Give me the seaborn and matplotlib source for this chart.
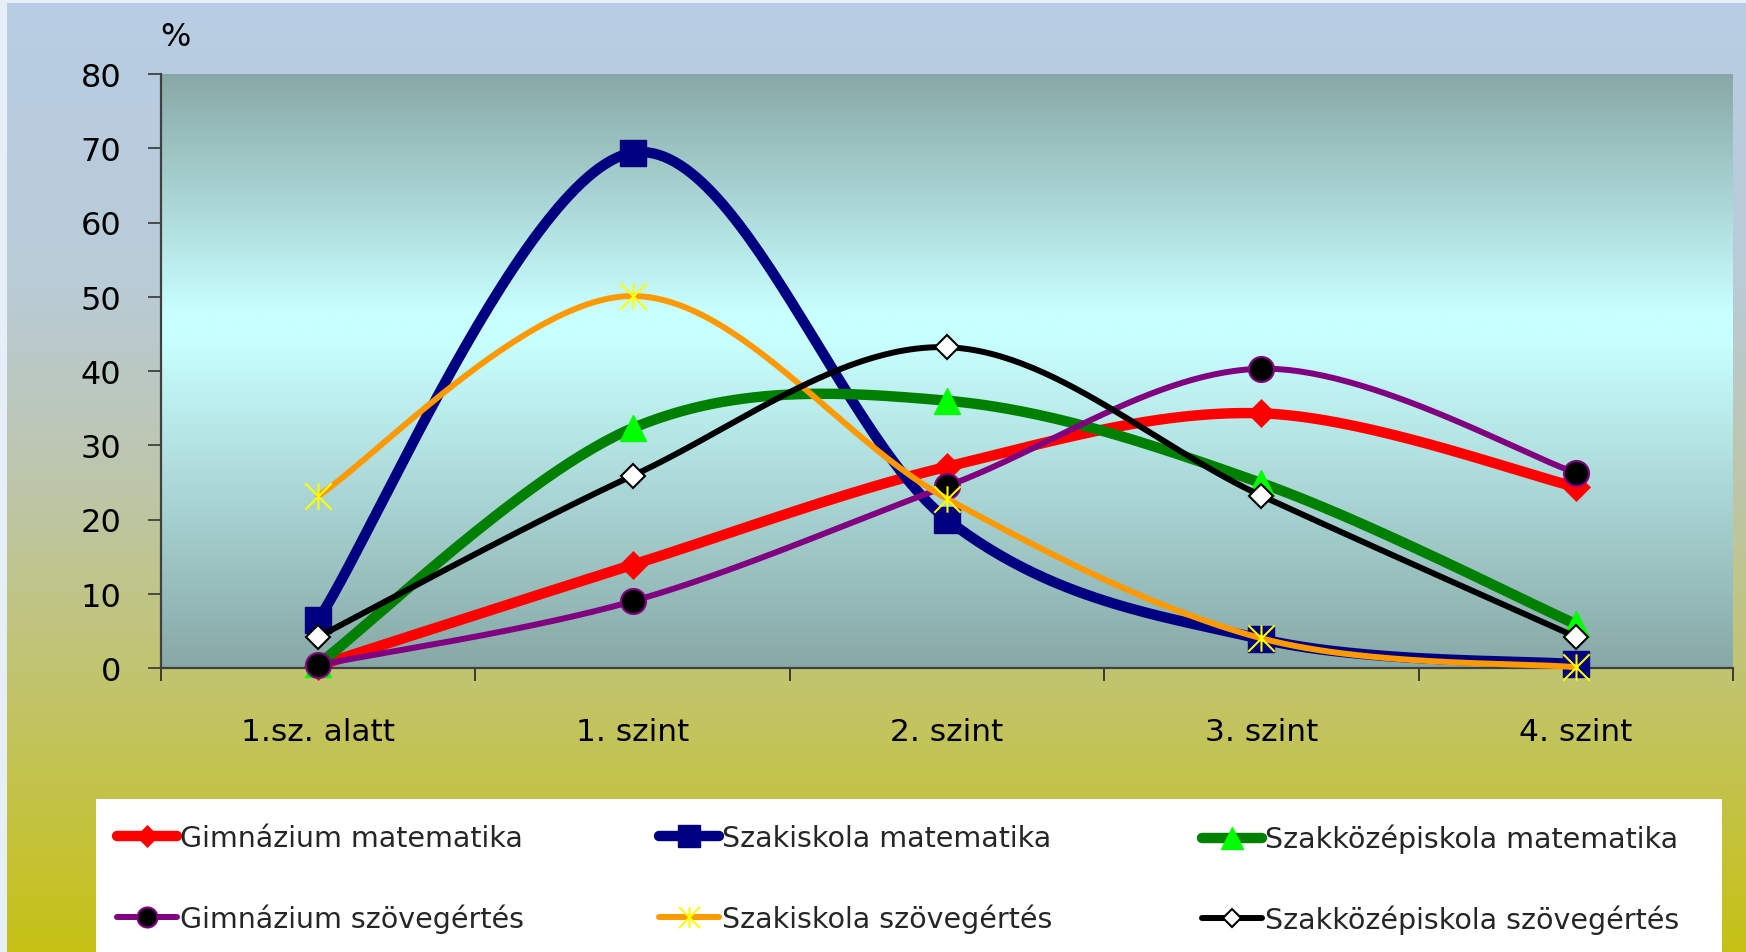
import numpy as np
import matplotlib
matplotlib.use("Agg")
import matplotlib.pyplot as plt
import seaborn as sns
from matplotlib.lines import Line2D
from matplotlib.patches import Rectangle
from matplotlib.path import Path

# ---------------- data ----------------
categories = ["1.sz. alatt", "1. szint", "2. szint", "3. szint", "4. szint"]
gimn_mat = [0.3, 13.9, 27.1, 34.3, 24.4]
szak_mat = [6.5, 69.4, 20.0, 3.9, 0.5]
szakkoz_mat = [0.5, 32.3, 36.0, 24.9, 5.9]
gimn_szov = [0.4, 9.0, 24.5, 40.3, 26.3]
szak_szov = [23.2, 50.1, 22.8, 4.0, 0.1]
szakkoz_szov = [4.2, 25.9, 43.2, 23.2, 4.2]
series_names = ["Gimnázium matematika", "Szakiskola matematika", "Szakközépiskola matematika",
                "Gimnázium szövegértés", "Szakiskola szövegértés", "Szakközépiskola szövegértés"]
y_ticks = [0, 10, 20, 30, 40, 50, 60, 70, 80]

# ---------------- style ----------------
sns.set_theme(style="white")
plt.rcParams["font.family"] = ["DejaVu Sans"]

W, H = 1746, 953
fig = plt.figure(figsize=(W / 100, H / 100), dpi=100)
fig.patch.set_facecolor("#E6EEF7")

# figure background gradient
stops = [(0.0, (184, 205, 228)), (0.3, (185, 203, 214)), (0.5, (189, 198, 172)),
         (0.73, (194, 196, 104)), (1.0, (198, 193, 20))]
fr = np.linspace(0, 1, 400)
cols = np.stack([np.interp(fr, [s[0] for s in stops], [s[1][k] for s in stops]) for k in range(3)], axis=1) / 255
bg = fig.add_axes([7 / W, 0, 1 - 7 / W, 1 - 4 / H], zorder=-10)
bg.imshow(cols[:, None, :], aspect="auto", extent=[0, 1, 0, 1])
bg.axis("off")

# white legend box
fig.add_artist(Rectangle((96 / W, 0), (1722 - 96) / W, (953 - 800) / H, transform=fig.transFigure,
                         facecolor="white", edgecolor="none", zorder=-5))

ax = fig.add_axes([161 / W, 1 - 669 / H, (1733 - 161) / W, (669 - 75) / H], zorder=0)
ax.patch.set_visible(False)

# plot-area gradient
afr = np.linspace(0, 1, 400)
dark = np.array([135, 168, 166]); bright = np.array([200, 255, 255])
acols = np.stack([np.interp(afr, [0, 0.40, 0.45, 1], [dark[k], bright[k], bright[k], dark[k]]) for k in range(3)],
                 axis=1) / 255
ax.imshow(acols[:, None, :], aspect="auto", extent=[-0.5, 4.5, 0, 80], zorder=0)


def excel_smooth(vals, n=60):
    v = np.asarray(vals, float)
    P = np.column_stack([np.arange(len(v), dtype=float), v])
    out = []
    for i in range(len(P) - 1):
        p0 = P[i - 1] if i > 0 else P[i]
        p1, p2 = P[i], P[i + 1]
        p3 = P[i + 2] if i + 2 < len(P) else P[i + 1]
        c1 = p1 + (p2 - p0) / 6
        c2 = p2 - (p3 - p1) / 6
        t = np.linspace(0, 1, n)[:, None]
        seg = (1 - t) ** 3 * p1 + 3 * (1 - t) ** 2 * t * c1 + 3 * (1 - t) * t ** 2 * c2 + t ** 3 * p2
        out.append(seg if i == 0 else seg[1:])
    return np.vstack(out)


star = Path([(-1, -1), (1, 1), (-1, 1), (1, -1), (0, -1), (0, 1)],
            [Path.MOVETO, Path.LINETO, Path.MOVETO, Path.LINETO, Path.MOVETO, Path.LINETO])

styles = [
    dict(vals=gimn_mat, lc="#FF0000", lw=7.5, marker="D", ms=14, mfc="#FF0000", mec="#FF0000", mew=0.5),
    dict(vals=szak_mat, lc="#000080", lw=7.5, marker="s", ms=19, mfc="#000080", mec="#000080", mew=1),
    dict(vals=szakkoz_mat, lc="#008000", lw=7.5, marker="^", ms=19, mfc="#00FF00", mec="#00FF00", mew=1),
    dict(vals=gimn_szov, lc="#800080", lw=4.3, marker="o", ms=18, mfc="#000000", mec="#800080", mew=1.5),
    dict(vals=szak_szov, lc="#FF9900", lw=4.3, marker=star, ms=19, mfc="none", mec="#FFFF00", mew=1.5),
    dict(vals=szakkoz_szov, lc="#000000", lw=4.3, marker="D", ms=12, mfc="#FFFFFF", mec="#000000", mew=1.5),
]

x_idx = np.arange(len(categories))
handles = []
for i, st in enumerate(styles):
    sm = excel_smooth(st["vals"])
    sns.lineplot(x=sm[:, 0], y=sm[:, 1], sort=False, estimator=None, color=st["lc"], linewidth=st["lw"],
                 ax=ax, zorder=2 + 2 * i, clip_on=False, solid_capstyle="round")
    ax.plot(x_idx, st["vals"], linestyle="none", marker=st["marker"], markersize=st["ms"],
            markerfacecolor=st["mfc"], markeredgecolor=st["mec"], markeredgewidth=st["mew"],
            zorder=3 + 2 * i, clip_on=False)
    handles.append(Line2D([0], [0], color=st["lc"], linewidth=st["lw"], marker=st["marker"],
                          markersize=st["ms"] * 0.8, markerfacecolor=st["mfc"], markeredgecolor=st["mec"],
                          markeredgewidth=st["mew"], solid_capstyle="round"))

ax.set_xlim(-0.5, 4.5)
ax.set_ylim(0, 80)
ax.set_xticks(x_idx)
ax.set_xticklabels(categories)
ax.set_xticks(np.arange(-0.5, 5, 1.0), minor=True)
ax.set_yticks(y_ticks)
ax.set_yticklabels([str(v) for v in y_ticks])
ax.set_xlabel("")
ax.set_ylabel("")
ax.tick_params(axis="x", which="major", length=0, pad=35, labelsize=22.5, labelcolor="black")
ax.tick_params(axis="x", which="minor", length=9, width=1.3, color="#303030", direction="out", bottom=True)
ax.tick_params(axis="y", which="major", length=9.5, width=1.3, color="#404040", direction="out",
               pad=19, labelsize=23, labelcolor="black", left=True)
for s in ["top", "right"]:
    ax.spines[s].set_visible(False)
for s in ["left", "bottom"]:
    ax.spines[s].set_color("#404040")
    ax.spines[s].set_linewidth(1.6)
    ax.spines[s].set_zorder(1)
ax.grid(False)

fig.text(175 / W, 1 - 37 / H, "%", ha="center", va="center", fontsize=23, color="black")

col_x = [117, 659, 1202]
for c in range(3):
    fig.legend([handles[c], handles[c + 3]], [series_names[c], series_names[c + 3]],
               loc="upper left", bbox_to_anchor=(col_x[c] / W, (953 - 825) / H),
               frameon=False, fontsize=20.5, borderpad=0, handlelength=2.1, handletextpad=0.1,
               labelspacing=1.8, numpoints=1, borderaxespad=0)

fig.savefig("out.png", dpi=100)
